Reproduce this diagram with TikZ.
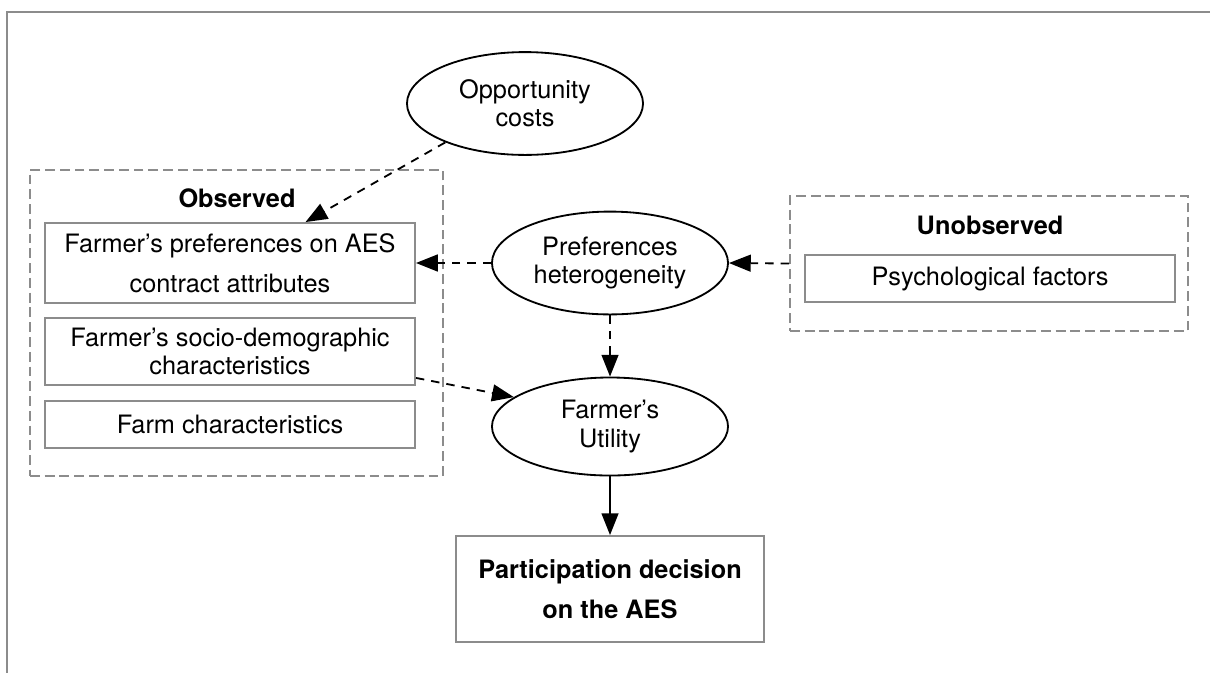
\documentclass[tikz,border=0pt]{standalone}
\usepackage{fontspec}
\setmainfont{TeX Gyre Heros}
\usepackage{tikz}
\usetikzlibrary{arrows.meta,shapes.geometric,calc}
\definecolor{framegray}{HTML}{8C8C8C}

\begin{document}
\begin{tikzpicture}[x=0.025cm,y=-0.025cm,
    every node/.style={font=\fontsize{18}{20}\selectfont, align=center},
    oval/.style={draw=black, line width=1.3pt, ellipse, minimum width=5.9cm, minimum height=2.57cm, inner sep=0pt},
    attrbox/.style={draw=framegray, line width=1.3pt, minimum width=9.25cm, inner sep=0pt},
    groupbox/.style={draw=framegray, line width=1.2pt, dash pattern=on 7pt off 3.5pt, inner sep=0pt},
    dasharrow/.style={-{Triangle[length=15.5pt,width=12pt]}, line width=1.3pt, dash pattern=on 6pt off 5pt},
    solidarrow/.style={-{Triangle[length=15.5pt,width=12pt]}, line width=1.3pt}]
    \useasboundingbox (0,0) rectangle (1210,673);

    % Cadre (haut et gauche)
    \draw[framegray, line width=1.5pt] (1210,12) -- (7,12) -- (7,673);

    % Groupes pointilles
    \node[groupbox, minimum width=10.325cm, minimum height=7.65cm] (obsgroup) at (236.5,323) {};
    \node[groupbox, minimum width=9.95cm, minimum height=3.375cm] (unobsgroup) at (989,263.5) {};

    % Observe
    \node (obslabel) at (237,198) {\textbf{Observed}};
    \node[attrbox, minimum height=2cm] (prefattr) at (230,263) {Farmer’s preferences on AES\\[8.5pt]contract attributes};
    \node[attrbox, minimum height=1.675cm] (socio) at (230,351.5) {Farmer’s socio-demographic\\characteristics};
    \node[attrbox, minimum height=1.175cm] (farm) at (230,424.5) {Farm characteristics};

    % Non observe
    \node (unobslabel) at (990,225) {\textbf{Unobserved}};
    \node[attrbox, minimum height=1.175cm] (psych) at (990,278.5) {Psychological factors};

    % Ellipses
    \node[oval] (opp) at (525,103.5) {Opportunity\\costs};
    \node[oval] (pref) at (610,263) {Preferences\\heterogeneity};
    \node[oval, minimum height=2.45cm] (util) at (610,426.5) {Farmer’s\\Utility};

    % Decision
    \node[attrbox, minimum width=7.7cm, minimum height=2.65cm] (part) at (610,589) {\textbf{Participation decision}\\[8.5pt]\textbf{on the AES}};

    % Fleches
    \coordinate (opptarget) at ($(prefattr.north west)!0.703!(prefattr.north east)$);
    \coordinate (sociotail) at ($(socio.south east)+(0,-8)$);
    \draw[dasharrow] (opp.206) -- (opptarget);
    \draw[dasharrow] (pref.west) -- (prefattr.east);
    \draw[dasharrow] (unobsgroup.west) -- (pref.east);
    \draw[dasharrow] (pref.south) -- (util.north);
    \draw[dasharrow] (sociotail) -- (util.163);
    \draw[solidarrow] (util.south) -- (part.north);
\end{tikzpicture}
\end{document}
